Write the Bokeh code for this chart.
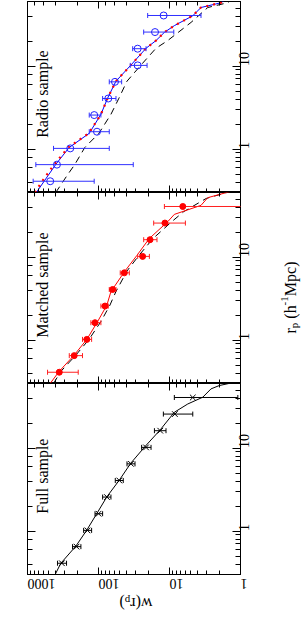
import math
from bokeh.plotting import figure
from bokeh.models import Range1d, LogAxis, Label, PrintfTickFormatter
from bokeh.layouts import column, row
from bokeh.embed import file_html
from bokeh.resources import INLINE

# ---------------- data ----------------
rp_bins = [0.41, 0.65, 1.02, 1.62, 2.57, 4.07, 6.46, 10.2, 16.2, 25.7, 40.7]

radio_w = [479, 385, 250, 105, 115, 72.8, 58.6, 28.1, 28.1, 16.0, 12.1]
radio_lo = [115, 32.4, 70.5, 70.5, 92.5, 56.7, 47.2, 20.7, 21.4, 8.7, 3.6]
radio_hi = [832, 763, 430, 135, 135, 87.5, 70.5, 35.7, 33.0, 23.1, 20.3]

matched_w = [357, 220, 146, 112, 81, 63.3, 43.3, 23.9, 18.8, 11.6, 6.5]
matched_lo = [193, 168, 125, 92.5, 72.8, 56.7, 36.8, 19.2, 15.0, 5.97, 0.5]
matched_hi = [522, 258, 168, 128, 92.5, 70.5, 49.4, 28.1, 23.1, 16.7, 11.8]

full_w = [328, 204, 143, 99.8, 76, 50.9, 34.9, 21.4, 13.5, 8.4, 4.7]
full_lo = [282, 177, 125, 87.5, 66.8, 44.8, 30.6, 18.2, 11.2, 4.7, 1.09]
full_hi = [378, 232, 162, 112, 87.5, 58, 39.7, 24.7, 16.3, 12.2, 8.55]

# model curves
radio_model_r = [0.3, 0.41, 0.655, 1.045, 1.55, 2.62, 4.11, 6.56, 10.3, 16.4, 20.3, 25.5, 30.7, 40.4, 50.8, 58, 64]
radio_blue_w = [750, 583, 399, 259, 135, 92.5, 74.4, 56.9, 34.9, 21.4, 15.5, 11.8, 8.55, 4.7, 3.6, 1.88, 1.6]
radio_red_w = [790, 620, 420, 266, 137, 92.5, 74.4, 56.9, 34.9, 21.4, 15.5, 11.8, 8.55, 4.7, 3.6, 1.88, 1.6]

radio_dash_r = [0.3, 0.49, 0.655, 1.045, 1.55, 2.62, 4.11, 6.56, 10.3, 16.4, 20.3, 33.6, 50.8, 58, 64]
radio_dash_w = [400, 273, 215, 156, 98.7, 66.9, 51.5, 39.8, 25.2, 15.5, 10.6, 4.97, 2.89, 1.51, 1.3]

matched_model_r = [0.3, 0.42, 0.66, 1.02, 1.67, 2.64, 3.83, 6.78, 10.5, 16.7, 26.7, 32.7, 42, 52, 62]
matched_red_w = [480, 358, 220, 146, 103, 76.2, 66.9, 42.5, 28.7, 19.3, 10.6, 8.55, 3.6, 2.89, 1.36]

matched_dash_r = [0.3, 0.42, 0.66, 1.02, 1.67, 2.64, 3.83, 6.78, 10.5, 16.7, 26.7, 35.3, 50.8, 62]
matched_dash_w = [430, 339, 208, 136, 92.5, 69, 56.9, 39.8, 26.9, 17.1, 9.3, 6.3, 3.05, 1.36]

full_model_r = [0.3, 0.41, 0.66, 1.03, 1.64, 2.6, 4.1, 6.6, 10.5, 16.6, 27, 34, 41, 51.7, 56.7, 62]
full_model_w = [408, 339, 208, 146, 105, 76, 51, 35, 22, 13.5, 8.55, 5.53, 3.4, 2.6, 1.99, 1.22]

panel_names = ["Radio sample", "Matched sample", "Full sample"]
w_range = (1000, 1)
rp_range = (0.3, 60)

FONT = "Liberation Serif"
PANEL_W = 27 + 213 + 27


def style_axis(ax, tick_in, minor_in, labels, orient, standoff=4):
    ax.axis_line_color = None
    ax.major_tick_in = tick_in
    ax.major_tick_out = 0
    ax.minor_tick_in = minor_in
    ax.minor_tick_out = 0
    ax.major_tick_line_color = "black"
    ax.minor_tick_line_color = "black"
    ax.formatter = PrintfTickFormatter(format="%d")
    ax.major_label_text_font = FONT
    if labels:
        ax.major_label_text_font_size = "14px"
        ax.major_label_text_color = "black"
        ax.major_label_orientation = orient
        ax.major_label_standoff = standoff
    else:
        ax.major_label_text_font_size = "1px"
        ax.major_label_text_alpha = 0
        ax.major_label_standoff = 0


def make_panel(name, bottom, top_border):
    p = figure(x_axis_type="log", y_axis_type="log",
               x_range=Range1d(*w_range), y_range=Range1d(*rp_range),
               frame_width=213, frame_height=191,
               y_axis_location="right",
               min_border_left=27, min_border_right=27,
               min_border_top=top_border, min_border_bottom=(28 if bottom else 0),
               output_backend="svg", toolbar_location=None)
    p.xgrid.visible = False
    p.ygrid.visible = False
    p.outline_line_color = "black"
    p.outline_line_width = 1
    p.background_fill_color = "white"
    p.border_fill_color = "white"
    style_axis(p.xaxis[0], 7, 4, bottom, math.pi, standoff=9)
    style_axis(p.yaxis[0], 8, 5, True, math.pi / 2, standoff=4)
    top = LogAxis()
    style_axis(top, 7, 4, False, "horizontal")
    p.add_layout(top, "above")
    left = LogAxis()
    style_axis(left, 8, 5, False, "horizontal")
    p.add_layout(left, "left")
    p.add_layout(Label(x=620, y=4.6, text=name, angle=math.pi / 2,
                       text_align="center", text_baseline="middle",
                       text_font=FONT, text_font_size="16px", text_color="black"))
    return p


def errbars(p, r, lo, hi, color):
    p.segment(x0=lo, y0=r, x1=hi, y1=r, line_color=color, line_width=1)
    p.scatter(x=lo + hi, y=r + r, marker="dash", angle=math.pi / 2, size=5,
              line_color=color, line_width=1)


def blank_fig(w, h):
    f = figure(width=w, height=h, x_range=Range1d(0, w), y_range=Range1d(0, h),
               x_axis_location=None, y_axis_location=None,
               min_border=0, output_backend="svg", toolbar_location=None)
    f.xgrid.visible = False
    f.ygrid.visible = False
    f.outline_line_color = None
    f.background_fill_color = None
    f.border_fill_color = None
    return f


# ---------- Radio ----------
p1 = make_panel(panel_names[0], False, 1)
p1.line(radio_dash_w, radio_dash_r, line_color="black", line_dash="7 5", line_width=1)
p1.line(radio_blue_w, radio_model_r, line_color="#0000ff", line_width=1)
p1.line(radio_red_w, radio_model_r, line_color="#ff0000", line_dash="2 5", line_width=2.2)
errbars(p1, rp_bins, radio_lo, radio_hi, "#3030ff")
p1.scatter(radio_w, rp_bins, marker="circle", size=7, fill_color=None,
           line_color="#2020ff", line_width=1)

# ---------- Matched ----------
p2 = make_panel(panel_names[1], False, 0)
p2.line(matched_dash_w, matched_dash_r, line_color="black", line_dash="7 5", line_width=1)
p2.line(matched_red_w, matched_model_r, line_color="#ff0000", line_width=1)
errbars(p2, rp_bins, matched_lo, matched_hi, "#ff2020")
p2.scatter(matched_w, rp_bins, marker="circle", size=6, fill_color="#ff0000",
           line_color="#ff0000")

# ---------- Full ----------
p3 = make_panel(panel_names[2], True, 0)
p3.line(full_model_w, full_model_r, line_color="black", line_width=1)
errbars(p3, rp_bins, full_lo, full_hi, "black")
p3.scatter(full_w, rp_bins, marker="x", size=8, line_color="black", line_width=1)

# ---------- r_p axis title (right strip) ----------
RH = 574
rlab = blank_fig(307 - PANEL_W, RH)
rk = dict(angle=math.pi / 2, text_align="left", text_baseline="alphabetic",
          text_font=FONT, text_color="black")
X0 = PANEL_W
rlab.add_layout(Label(x=290 - X0, y=RH - 333, text="r", text_font_size="16px", **rk))
rlab.add_layout(Label(x=293 - X0, y=RH - 327.7, text="p", text_font_size="11px", **rk))
rlab.add_layout(Label(x=290 - X0, y=RH - 318.2, text="(h", text_font_size="16px", **rk))
rlab.add_layout(Label(x=284 - X0, y=RH - 304.9, text="-1", text_font_size="11px", **rk))
rlab.add_layout(Label(x=290 - X0, y=RH - 295.7, text="Mpc)", text_font_size="16px", **rk))

# ---------- w(r_p) axis title (bottom strip, overlapping transparently), upside down ----------
BH = 40
BTOP = 586
blab = blank_fig(PANEL_W, BH)
blab.margin = (-16, 0, 0, 0)
bk = dict(angle=math.pi, text_align="left", text_baseline="alphabetic",
          text_font=FONT, text_color="black")
blab.add_layout(Label(x=152, y=BTOP + BH - 603, text="w(r", text_font_size="16px", **bk))
blab.add_layout(Label(x=129.8, y=BTOP + BH - 600, text="p", text_font_size="11px", **bk))
blab.add_layout(Label(x=124.3, y=BTOP + BH - 603, text=")", text_font_size="16px", **bk))

layout = column(row(column(p1, p2, p3, spacing=0), rlab, spacing=0), blab, spacing=0)

open("out.html", "w").write(file_html(layout, INLINE))
